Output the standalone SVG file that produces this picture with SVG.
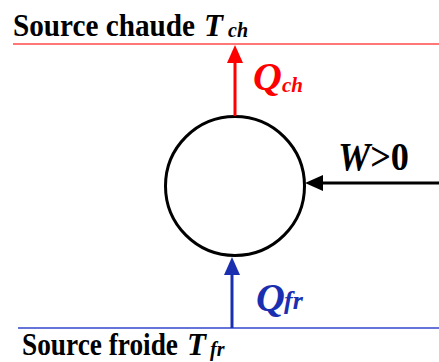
<svg xmlns="http://www.w3.org/2000/svg" width="439" height="362" viewBox="0 0 439 362">
<style>
text{font-family:"Liberation Serif","Times New Roman",serif;font-weight:bold}
.it{font-style:italic}
.red{fill:#ff0000}
.blue{fill:#1a2fb0}
</style>
<rect width="439" height="362" fill="#ffffff"/>
<g id="source-chaude">
<line x1="13" y1="44" x2="439" y2="44" stroke="#ff4a4a" stroke-width="1.5"/>
<text y="36" font-size="31"><tspan x="13" textLength="182" lengthAdjust="spacingAndGlyphs">Source chaude</tspan><tspan x="204" class="it">T</tspan><tspan x="228" dy="1" font-size="20" class="it">ch</tspan></text>
</g>
<g id="source-froide">
<line x1="18" y1="328" x2="439" y2="328" stroke="#3344cc" stroke-width="1.5"/>
<text y="355" font-size="31"><tspan x="22" textLength="156" lengthAdjust="spacingAndGlyphs">Source froide</tspan><tspan x="187" class="it">T</tspan><tspan x="210" dy="1" font-size="20" class="it">fr</tspan></text>
</g>
<g id="machine">
<circle cx="235" cy="186" r="69.5" fill="none" stroke="#000" stroke-width="3"/>
</g>
<g id="connectors">
<g id="q-ch">
<line x1="235" y1="116" x2="235" y2="62" stroke="#ff0000" stroke-width="3"/>
<polygon points="235,45 227,63 243,63" fill="#ff0000"/>
<text y="90" font-size="40" class="it red"><tspan x="253">Q</tspan><tspan x="282" dy="2" font-size="21">ch</tspan></text>
</g>
<g id="q-fr">
<line x1="232" y1="328" x2="232" y2="274" stroke="#1a2fb0" stroke-width="3"/>
<polygon points="232,257 224,275 240,275" fill="#1a2fb0"/>
<text y="311" font-size="40" class="it blue"><tspan x="256">Q</tspan><tspan x="284" dy="-2" font-size="26">fr</tspan></text>
</g>
<g id="w">
<line x1="439" y1="183" x2="322" y2="183" stroke="#000" stroke-width="3"/>
<polygon points="305,183 323,175 323,191" fill="#000"/>
<text x="338" y="170" font-size="40" textLength="71" lengthAdjust="spacingAndGlyphs"><tspan class="it">W</tspan>&gt;0</text>
</g>
</g>
</svg>
